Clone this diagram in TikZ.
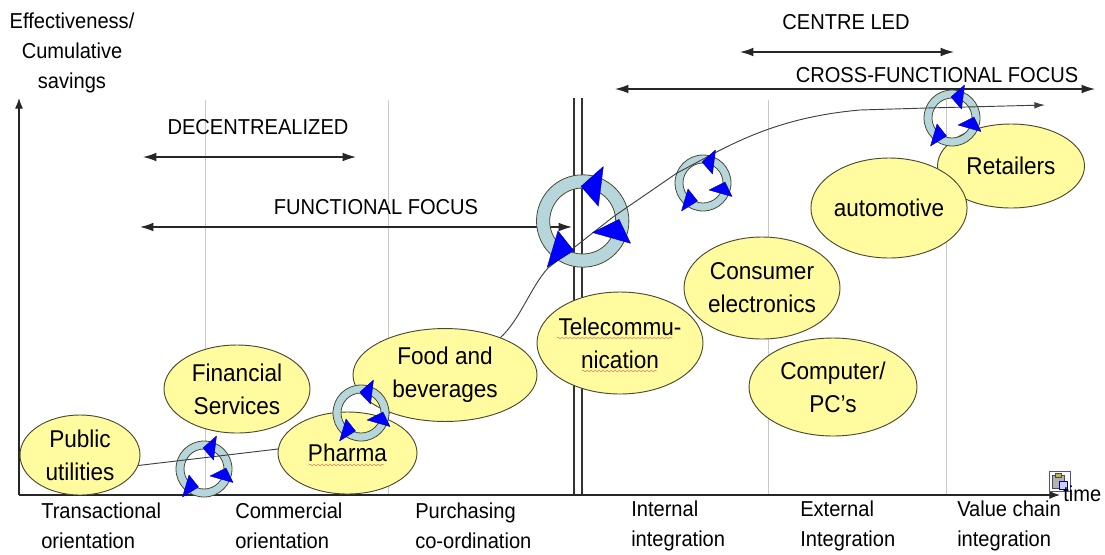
\documentclass[tikz,border=0pt]{standalone}
\usepackage{fontspec}
\setmainfont[FakeStretch=0.93]{Liberation Sans}
\usetikzlibrary{arrows.meta,shapes.geometric,decorations.pathmorphing}
\definecolor{blobfill}{HTML}{FFFB9E}
\definecolor{blobedge}{HTML}{4A4A30}
\definecolor{ringfill}{HTML}{B6D6DB}
\definecolor{gridgray}{HTML}{C8C8C8}
\definecolor{wavy}{HTML}{D8705A}
\tikzset{
  blob/.style={ellipse,draw=blobedge,line width=.7pt,fill=blobfill,inner sep=0pt,align=center,
    font=\fontsize{18.2pt}{24.7pt}\selectfont,text=black},
  lbl/.style={font=\fontsize{16.2pt}{22.2pt}\selectfont,text=black,inner sep=0pt},
  steplabel/.style={lbl,anchor=west,align=left},
  gridline/.style={draw=gridgray,line width=.6pt},
  span/.style={draw=black!85,line width=.9pt,{Latex[length=10pt,width=6.5pt]}-{Latex[length=10pt,width=6.5pt]}},
  axis/.style={draw=black!85,line width=.8pt,-{Latex[length=8pt,width=6pt]}},
  curve/.style={draw=black!75,line width=.7pt},
  squiggle/.style={draw=wavy,line width=.35pt,decorate,decoration={snake,amplitude=.6pt,segment length=3pt}},
}
\newcommand{\ringback}[3]{%
  \begin{scope}[shift={(#1,#2)},scale=#3]
    \path[fill=ringfill,draw=blobedge,line width=.6pt,even odd rule] (0,0) circle (28) (0,0) circle (20);
  \end{scope}}
\newcommand{\ringtips}[3]{%
  \begin{scope}[shift={(#1,#2)},scale=#3]
    \path[fill=blue,draw=blue!60!black,line width=.3pt,line join=round]
      (12.5,-33) -- (-1,-21) -- (9.5,-9) -- cycle
      (29,13.5) -- (6,7) -- (22,-1) -- cycle
      (-21.5,28) -- (-15,6) -- (-5.5,18) -- cycle;
  \end{scope}}
\begin{document}
\begin{tikzpicture}[x=.75pt,y=-.75pt]
\useasboundingbox (0,0) rectangle (1105,554);
% grid
\coordinate (o) at (19,495);
\coordinate (ytop) at (19,98);
\coordinate (xend) at (1060,495);
\foreach \gx in {205,388,768,946} \draw[gridline] (\gx,100) -- (\gx,495);
% double separator
\draw[draw=black!80,line width=.8pt] (574,98) -- (574,495);
\draw[draw=black!80,line width=.8pt] (582,98) -- (582,495);
% axes
\draw[axis] (o) -- (ytop);
\draw[axis] (o) -- (xend);
% span arrows
\coordinate (a1) at (143,157); \coordinate (a2) at (356,157);
\coordinate (b1) at (140,227); \coordinate (b2) at (572,227);
\coordinate (c1) at (740,52);  \coordinate (c2) at (954,52);
\coordinate (d1) at (615,89);  \coordinate (d2) at (1095,89);
\draw[span] (a1) -- (a2);
\draw[span] (b1) -- (b2);
\draw[span] (c1) -- (c2);
\draw[span] (d1) -- (d2);
% retailers sits under its ring
\node[blob,minimum width=110.25pt,minimum height=63pt] (ret) at (1011,166) {Retailers};
\ringback{204}{469}{1}
\ringback{582.7}{221}{1.65}
\ringback{703}{183}{1}
\ringback{952}{118}{1}
% learning curve
\coordinate (cs) at (100,470);
\coordinate (cm) at (347,442);
\coordinate (ce) at (1045,105);
\draw[curve] (cs) -- (278,449) -- (cm) -- (500,338)
  .. controls (520,320) and (530,288) .. (548,268)
  -- (613,217)
  -- (677,173)
  .. controls (725,148) and (770,118) .. (860,110)
  -- (927,108);
\draw[curve,-{Latex[length=8pt,width=5pt]}] (927,108) -- (ce);
% ellipses
\node[blob,minimum width=90pt,minimum height=60pt] (pub) at (80,455) {Public\\utilities};
\node[blob,minimum width=109.5pt,minimum height=66pt] (fin) at (237,389) {Financial\\Services};
\node[blob,minimum width=138pt,minimum height=69.7pt] (food) at (445,375) {\makebox[0pt]{Food and}\\\makebox[0pt]{beverages}};
\node[blob,minimum width=104.25pt,minimum height=61.5pt] (pha) at (347.5,453) {Pharma};
\node[blob,minimum width=124.5pt,minimum height=76.5pt] (tel) at (620,343) {\makebox[0pt]{Telecommu-}\\\makebox[0pt]{nication}};
\node[blob,minimum width=117pt,minimum height=76.5pt] (con) at (762,288) {\makebox[0pt]{Consumer}\\\makebox[0pt]{electronics}};
\node[blob,minimum width=126pt,minimum height=73.5pt] (com) at (833,387) {\makebox[0pt]{Computer/}\\\makebox[0pt]{PC’s}};
\node[blob,minimum width=117pt,minimum height=75pt] (aut) at (889,208) {automotive};
\ringback{361}{413}{1}
\ringtips{204}{469}{1}
\ringtips{582.7}{221}{1.65}
\ringtips{703}{183}{1}
\ringtips{952}{118}{1}
\ringtips{361}{413}{1}
% spell-check squiggles
\draw[squiggle] (309,465) -- (384,465);
\draw[squiggle] (557,338) -- (673,338);
\draw[squiggle] (582,371) -- (657,371);
% texts
\node[lbl,align=center] (yl) at (72,53) {Effectiveness/\\Cumulative\\savings};
\node[lbl] (t1) at (258,127) {DECENTREALIZED};
\node[lbl] (t2) at (376,207) {FUNCTIONAL FOCUS};
\node[lbl] (t3) at (846,22) {CENTRE LED};
\node[lbl] (t4) at (937,75) {CROSS-FUNCTIONAL FOCUS};
\node[steplabel] (s1) at (41,526) {Transactional\\orientation};
\node[steplabel] (s2) at (235,526) {Commercial\\orientation};
\node[steplabel] (s3) at (415,526) {Purchasing\\co-ordination};
\node[steplabel] (s4) at (631,526) {Internal\\integration};
\node[steplabel] (s5) at (800,526) {External\\Integration};
\node[steplabel] (s6) at (957,526) {Value chain\\integration};
% clipboard icon
\path[fill=white,draw=blue!40!gray,line width=.6pt] (1049,471) rectangle (1070,491);
\path[fill=gray!60,draw=black!70,line width=.4pt] (1052,475) rectangle (1064,488);
\path[fill=olive!60,draw=black!70,line width=.3pt] (1055,473) rectangle (1061,477);
\path[fill=blue!20,draw=blue!50!black,line width=.4pt] (1059,481) rectangle (1067,489);
\node[lbl,anchor=west] (tm) at (1063,494) {time};
\end{tikzpicture}
\end{document}
